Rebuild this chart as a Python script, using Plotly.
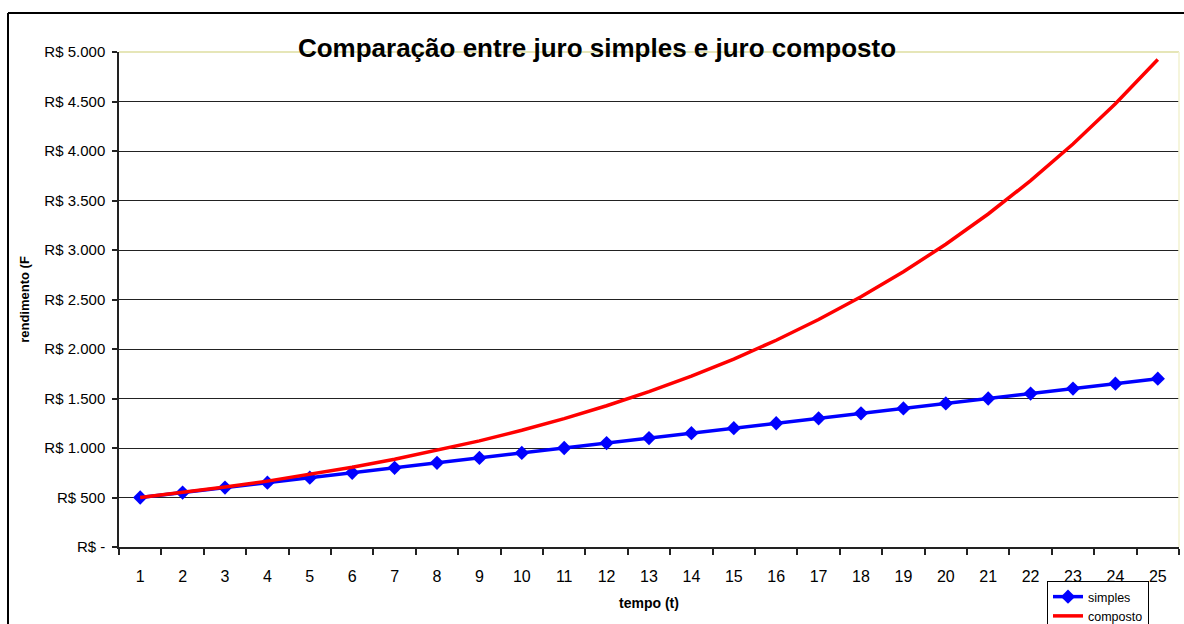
import plotly.graph_objects as go

tempo = [str(t) for t in range(1, 26)]
simples = [500, 550, 600, 650, 700, 750, 800, 850, 900, 950, 1000, 1050, 1100,
           1150, 1200, 1250, 1300, 1350, 1400, 1450, 1500, 1550, 1600, 1650, 1700]
composto = [500.00, 550.00, 605.00, 665.50, 732.05, 805.26, 885.78, 974.36,
            1071.79, 1178.97, 1296.87, 1426.56, 1569.21, 1726.14, 1898.75,
            2088.62, 2297.49, 2527.24, 2779.96, 3057.95, 3363.75, 3700.12,
            4070.14, 4477.15, 4924.87]
y_ticks = [0, 500, 1000, 1500, 2000, 2500, 3000, 3500, 4000, 4500, 5000]
y_tick_labels = ["R$ -", "R$ 500", "R$ 1.000", "R$ 1.500", "R$ 2.000", "R$ 2.500",
                 "R$ 3.000", "R$ 3.500", "R$ 4.000", "R$ 4.500", "R$ 5.000"]

FONT = "Liberation Sans, Arial, sans-serif"

fig = go.Figure()
fig.add_trace(go.Scatter(
    x=tempo, y=simples, name="simples", mode="lines+markers",
    line=dict(color="#0000FF", width=3.5),
    marker=dict(symbol="diamond", size=11, color="#0000FF"),
))
fig.add_trace(go.Scatter(
    x=tempo, y=composto, name="composto", mode="lines",
    line=dict(color="#FF0000", width=3.5),
))

W, H = 1184, 624
L, R, T, B = 119, 5, 52, 77
pw, ph = W - L - R, H - T - B

def px_x(x):
    return (x - L) / pw

def px_y(y):
    return (H - B - y) / ph

fig.update_layout(
    width=W, height=H,
    margin=dict(l=L, r=R, t=T, b=B, autoexpand=False),
    paper_bgcolor="white", plot_bgcolor="white",
    font=dict(family=FONT, color="black"),
    title=dict(
        text="<b>Comparação entre juro simples e juro composto</b>",
        font=dict(family=FONT, size=26, color="black"),
        x=px_x(597), xref="paper", xanchor="center",
        y=1 - 48 / H, yanchor="middle",
    ),
    showlegend=True,
    legend=dict(
        xref="container", yref="container",
        x=1047 / W, y=1 - 581 / H, xanchor="left", yanchor="top",
        bordercolor="black", borderwidth=1, bgcolor="white",
        font=dict(family=FONT, size=12.5, color="black"),
        tracegroupgap=0, itemwidth=30,
    ),
    xaxis=dict(
        type="category",
        range=[-0.5, 24.5],
        automargin=False,
        showgrid=False,
        showline=True, linecolor="#222222", linewidth=1.5,
        ticks="outside", ticklen=6, tickcolor="#222222", tickwidth=1.5,
        tickson="boundaries",
        tickfont=dict(family=FONT, size=16, color="black"),
        ticklabelstandoff=14,
        title=dict(text="<b>tempo (t)</b>", font=dict(family=FONT, size=14, color="black"),
                   standoff=14),
        fixedrange=True,
    ),
    yaxis=dict(
        range=[0, 5000],
        automargin=False,
        tickvals=y_ticks, ticktext=y_tick_labels,
        showgrid=True, gridcolor="#222222", gridwidth=1,
        zeroline=False,
        showline=True, linecolor="#222222", linewidth=1.5,
        ticks="outside", ticklen=5, tickcolor="#222222", tickwidth=1.5,
        tickfont=dict(family=FONT, size=15, color="black"),
        ticklabelstandoff=4,
        title=dict(text="<b>rendimento (F</b>", font=dict(family=FONT, size=13, color="black"),
                   standoff=12),
        fixedrange=True,
    ),
    shapes=[
        # light plot-area border at top and right
        dict(type="line", xref="paper", yref="paper", x0=0, x1=1, y0=1, y1=1,
             line=dict(color="#E6E6B8", width=2), layer="above"),
        dict(type="line", xref="paper", yref="paper", x0=1, x1=1, y0=0, y1=1,
             line=dict(color="#F2F2D0", width=1.5), layer="above"),
        # outer chart border (left and top edges visible)
        dict(type="line", xref="paper", yref="paper", x0=px_x(8), x1=px_x(1190),
             y0=px_y(13), y1=px_y(13), line=dict(color="black", width=2)),
        dict(type="line", xref="paper", yref="paper", x0=px_x(8), x1=px_x(8),
             y0=px_y(13), y1=px_y(630), line=dict(color="black", width=2)),
    ],
)

fig.write_html(
    "out.html",
    config={"displayModeBar": False},
    post_script="document.body.style.margin='0';document.body.style.overflow='hidden';",
)
